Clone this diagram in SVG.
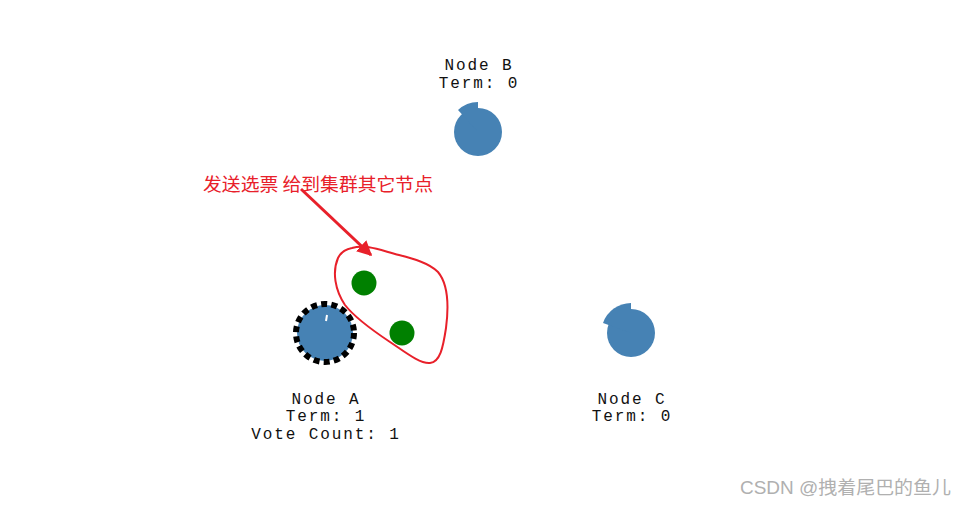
<svg xmlns="http://www.w3.org/2000/svg" width="967" height="506" viewBox="0 0 967 506">
<defs>
<style>
.lbl{font-family:"Liberation Mono","Courier New",monospace;font-size:16px;letter-spacing:1.9px;fill:#111;text-anchor:middle}
.node{fill:#4682b4}
.cand{fill:#008000}
.note{font-family:"Noto Sans CJK SC","Noto Sans",sans-serif;font-size:18.5px;fill:#e8202a}
.wm{font-family:"Liberation Sans","Noto Sans CJK SC",sans-serif;font-size:18px;fill:#b0b0b0}
</style>
<marker id="ah" viewBox="0 0 10 10" refX="9" refY="5" markerWidth="5" markerHeight="5" orient="auto" markerUnits="strokeWidth">
<path d="M0,0 L10,5 L0,10 z" fill="#e8202a"/>
</marker>
</defs>
<rect width="967" height="506" fill="#fff"/>

<g id="nodeB">
<circle class="node" cx="478" cy="132" r="24"/>
<path class="node" d="M478,132 L478,102 A30,30 0 0 0 458,110 Z"/>
<text class="lbl" x="479" y="70">Node B</text>
<text class="lbl" x="479" y="88">Term: 0</text>
</g>

<g id="nodeC">
<circle class="node" cx="631" cy="333" r="24"/>
<path class="node" d="M631,333 L631,303 A30,30 0 0 0 603,323 Z"/>
<text class="lbl" x="632" y="404">Node C</text>
<text class="lbl" x="632" y="421">Term: 0</text>
</g>

<g id="nodeA">
<circle class="node" cx="325" cy="333" r="28"/>
<circle cx="325" cy="333" r="29" fill="none" stroke="#000" stroke-width="6" stroke-dasharray="6 4.2"/>
<line x1="327" y1="315" x2="326" y2="321" stroke="#fff" stroke-width="2"/>
<text class="lbl" x="326" y="404">Node A</text>
<text class="lbl" x="326" y="421">Term: 1</text>
<text class="lbl" x="326" y="439">Vote Count: 1</text>
</g>

<g id="votes">
<circle class="cand" cx="364" cy="283" r="12.5"/>
<circle class="cand" cx="402" cy="333" r="12.5"/>
</g>

<g id="connectors">
<path d="M352,248 C365,244 380,250 395,254 C410,258 428,262 438,272 C448,284 449,305 446,328 C443,348 440,362 430,363 C420,364 405,352 390,342 C372,330 355,318 345,305 C335,290 332,272 338,258 C341,252 346,249 352,248 Z" fill="none" stroke="#e8202a" stroke-width="2"/>
<line x1="301" y1="189" x2="371" y2="255" stroke="#e8202a" stroke-width="3" marker-end="url(#ah)"/>
</g>

<text class="note" x="203" y="191" textLength="230" lengthAdjust="spacingAndGlyphs">发送选票 给到集群其它节点</text>
<text class="wm" x="740" y="494" textLength="211" lengthAdjust="spacingAndGlyphs">CSDN @拽着尾巴的鱼儿</text>
</svg>
